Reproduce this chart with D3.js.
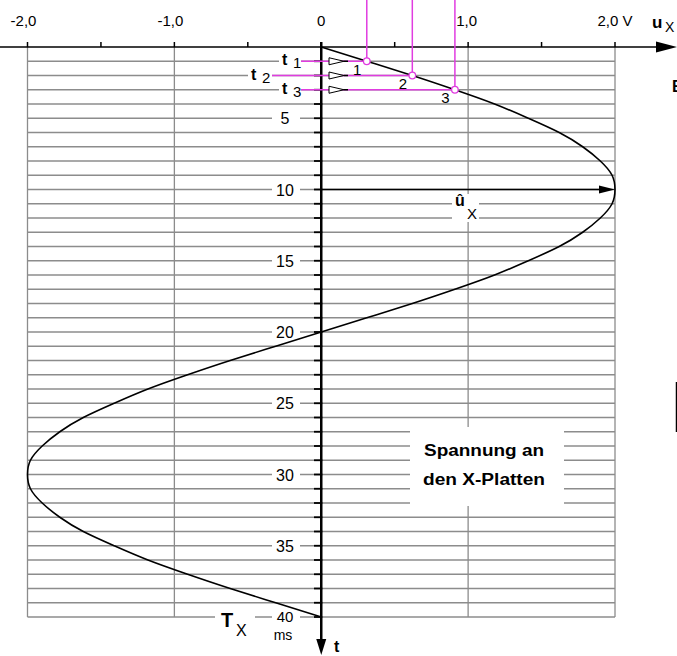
<!DOCTYPE html>
<html>
<head>
<meta charset="utf-8">
<script src="https://cdn.jsdelivr.net/npm/d3@7"></script>
<style>
  body { margin: 0; background: #fff; }
  svg { display: block; font-family: "Liberation Sans", Arial, sans-serif; }
</style>
</head>
<body>
<svg id="chart" width="677" height="656"></svg>
<script>
// time in ms, deflection voltage u_x in V
const timeMs = [0, 1, 2, 3, 4, 5, 6, 7, 8, 9, 10, 11, 12, 13, 14, 15, 16, 17, 18, 19, 20,
  21, 22, 23, 24, 25, 26, 27, 28, 29, 30, 31, 32, 33, 34, 35, 36, 37, 38, 39, 40];
const voltage = [0, 0.31, 0.62, 0.91, 1.18, 1.41, 1.62, 1.78, 1.90, 1.98, 2.00,
  1.98, 1.90, 1.78, 1.62, 1.41, 1.18, 0.91, 0.62, 0.31, 0,
  -0.31, -0.62, -0.91, -1.18, -1.41, -1.62, -1.78, -1.90, -1.98, -2.00,
  -1.98, -1.90, -1.78, -1.62, -1.41, -1.18, -0.91, -0.62, -0.31, 0];

const uTicks = [-2, -1.5, -1, -0.5, 0, 0.5, 1, 1.5, 2];
const uLabelVals = [-2, -1, 0, 1, 2];
const uLabels = ['-2,0', '-1,0', '0', '1,0', '2,0 V'];
const tLabelVals = [5, 10, 15, 20, 25, 30, 35, 40];

// sampled instants t1..t3
const sampleT = [1, 2, 3];
const sampleU = [0.31, 0.62, 0.91];
const sampleNames = ['1', '2', '3'];

const svg = d3.select('#chart');
const x = d3.scaleLinear().domain([-2, 2]).range([27.5, 615]);
const y = d3.scaleLinear().domain([0, 40]).range([47, 617]);
const magenta = '#e03ce0';
const grey = '#8c8c8c';

// grid
const grid = svg.append('g');
grid.selectAll('line.h')
  .data(timeMs.filter(d => d > 0))
  .enter().append('line')
    .attr('x1', x(-2)).attr('x2', x(2))
    .attr('y1', d => y(d)).attr('y2', d => y(d))
    .attr('stroke', grey).attr('stroke-width', 1.3);
grid.selectAll('line.v')
  .data([-2, -1, 1, 2])
  .enter().append('line')
    .attr('x1', d => x(d)).attr('x2', d => x(d))
    .attr('y1', y(0)).attr('y2', y(40))
    .attr('stroke', grey).attr('stroke-width', 1.3);

// white boxes cutting the grid
function blank(x0, y0, w, h) {
  svg.append('rect').attr('x', x0).attr('y', y0).attr('width', w).attr('height', h).attr('fill', '#fff');
}
tLabelVals.forEach(t => blank(272, y(t) - 8, 28, t == 40 ? 24 : 16));
blank(279, y(1) - 7, 22, 14);
blank(248, y(2) - 7, 24, 14);
blank(279, y(3) - 7, 22, 14);
blank(215, y(40) - 6, 40, 26);
blank(452, 194, 27, 28);
blank(410, 427, 154, 79);

// curve
const line = d3.line()
  .x((d, i) => x(voltage[i]))
  .y(d => y(d))
  .curve(d3.curveNatural);
svg.append('path')
  .datum(timeMs)
  .attr('d', line)
  .attr('fill', 'none')
  .attr('stroke', '#000')
  .attr('stroke-width', 1.6);

// u axis (top)
svg.append('line')
  .attr('x1', 0).attr('x2', 660)
  .attr('y1', y(0)).attr('y2', y(0))
  .attr('stroke', '#000').attr('stroke-width', 1.5);
svg.append('path')
  .attr('d', `M677,${y(0)} L656,${y(0) - 5.5} L656,${y(0) + 5.5} Z`)
  .attr('fill', '#000');
svg.selectAll('line.ut')
  .data(uTicks)
  .enter().append('line')
    .attr('x1', d => x(d)).attr('x2', d => x(d))
    .attr('y1', y(0) - 5).attr('y2', y(0))
    .attr('stroke', '#000').attr('stroke-width', 1.5);
svg.selectAll('text.ul')
  .data(uLabelVals)
  .enter().append('text')
    .attr('x', d => x(d) + (d < 0 ? -4 : d == 1 ? -1.5 : 0))
    .attr('y', 26)
    .attr('text-anchor', 'middle')
    .attr('font-size', 15)
    .text((d, i) => uLabels[i]);
svg.append('text').attr('x', 652).attr('y', 28).attr('font-size', 17).attr('font-weight', 'bold').text('u');
svg.append('text').attr('x', 665).attr('y', 32).attr('font-size', 14).text('X');

// t axis (vertical)
svg.selectAll('line.tt')
  .data(timeMs.filter(d => d > 0))
  .enter().append('line')
    .attr('x1', 314).attr('x2', x(0) + 1)
    .attr('y1', d => y(d)).attr('y2', d => y(d))
    .attr('stroke', '#000').attr('stroke-width', 1.8);
svg.append('line')
  .attr('x1', x(0)).attr('x2', x(0))
  .attr('y1', y(0) - 5).attr('y2', 642)
  .attr('stroke', '#000').attr('stroke-width', 2.5);
svg.append('path')
  .attr('d', `M${x(0)},655 L${x(0) - 5},639 L${x(0) + 5},639 Z`)
  .attr('fill', '#000');
svg.selectAll('text.tl')
  .data(tLabelVals)
  .enter().append('text')
    .attr('x', 285)
    .attr('y', d => y(d) + (d == 40 ? 5 : 6))
    .attr('text-anchor', 'middle')
    .attr('font-size', d => d == 40 ? 15 : 16)
    .text(d => d);
svg.append('text').attr('x', 283).attr('y', 640).attr('text-anchor', 'middle').attr('font-size', 14).text('ms');
svg.append('text').attr('x', 334).attr('y', 652).attr('font-size', 16).attr('font-weight', 'bold').text('t');
svg.append('text').attr('x', 221).attr('y', 627).attr('font-size', 20).attr('font-weight', 'bold').text('T');
svg.append('text').attr('x', 236).attr('y', 636).attr('font-size', 16).text('X');

// amplitude arrow
svg.append('line')
  .attr('x1', x(0)).attr('x2', x(2) - 12)
  .attr('y1', y(10)).attr('y2', y(10))
  .attr('stroke', '#000').attr('stroke-width', 1.5);
svg.append('path')
  .attr('d', `M${x(2)},${y(10)} L${x(2) - 16},${y(10) - 4} L${x(2) - 16},${y(10) + 4} Z`)
  .attr('fill', '#000');
svg.append('text').attr('x', 455).attr('y', 206).attr('font-size', 16).attr('font-weight', 'bold').text('\u00fb');
svg.append('text').attr('x', 467).attr('y', 219).attr('font-size', 15).text('X');

// sample instants
const labelX = [301, 272, 301];
svg.selectAll('line.mh')
  .data(sampleT)
  .enter().append('line')
    .attr('x1', (d, i) => labelX[i]).attr('x2', (d, i) => x(sampleU[i]))
    .attr('y1', d => y(d)).attr('y2', d => y(d))
    .attr('stroke', magenta).attr('stroke-width', 1.5);
svg.selectAll('line.mv')
  .data(sampleT)
  .enter().append('line')
    .attr('x1', (d, i) => x(sampleU[i])).attr('x2', (d, i) => x(sampleU[i]))
    .attr('y1', 0).attr('y2', d => y(d))
    .attr('stroke', magenta).attr('stroke-width', 1.5);
svg.selectAll('path.tri')
  .data(sampleT)
  .enter().append('path')
    .attr('d', d => `M329,${y(d) - 3.5} L344,${y(d)} L329,${y(d) + 3.5} Z`)
    .attr('fill', '#fff').attr('stroke', '#000').attr('stroke-width', 1);
svg.selectAll('line.tip')
  .data(sampleT)
  .enter().append('line')
    .attr('x1', 344).attr('x2', 348)
    .attr('y1', d => y(d)).attr('y2', d => y(d))
    .attr('stroke', '#000').attr('stroke-width', 1.5);
svg.selectAll('circle.mk')
  .data(sampleT)
  .enter().append('circle')
    .attr('cx', (d, i) => x(sampleU[i]))
    .attr('cy', d => y(d))
    .attr('r', 3.3)
    .attr('fill', '#fff').attr('stroke', magenta).attr('stroke-width', 1.3);
svg.selectAll('text.mn')
  .data(sampleT)
  .enter().append('text')
    .attr('x', (d, i) => x(sampleU[i]) - 9.5)
    .attr('y', d => y(d) + 13.5)
    .attr('text-anchor', 'middle')
    .attr('font-size', 15)
    .text((d, i) => sampleNames[i]);
const tLabX = [282, 251, 282];
sampleT.forEach((t, i) => {
  svg.append('text').attr('x', tLabX[i]).attr('y', y(t) + 4).attr('font-size', 16).attr('font-weight', 'bold').text('t');
  svg.append('text').attr('x', tLabX[i] + 11).attr('y', y(t) + 7).attr('font-size', 15).text(sampleNames[i]);
});

// caption
svg.append('text').attr('x', 484).attr('y', 456).attr('text-anchor', 'middle')
  .attr('font-size', 16).attr('font-weight', 'bold')
  .attr('textLength', 120).attr('lengthAdjust', 'spacingAndGlyphs').text('Spannung an');
svg.append('text').attr('x', 484).attr('y', 485).attr('text-anchor', 'middle')
  .attr('font-size', 16).attr('font-weight', 'bold')
  .attr('textLength', 122).attr('lengthAdjust', 'spacingAndGlyphs').text('den X-Platten');

// cut-off pieces at the right edge
svg.append('text').attr('x', 672).attr('y', 92).attr('font-size', 16).attr('font-weight', 'bold').text('E');
svg.append('line').attr('x1', 676.5).attr('x2', 676.5).attr('y1', 382).attr('y2', 432)
  .attr('stroke', '#000').attr('stroke-width', 1.5);
</script>
</body>
</html>
